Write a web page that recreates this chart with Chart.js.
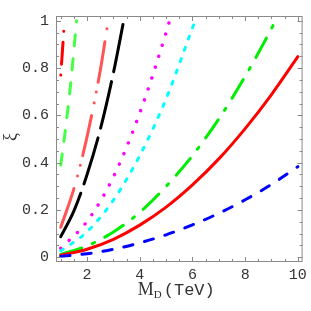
<!DOCTYPE html>
<html>
<head>
<meta charset="utf-8">
<script src="https://cdn.jsdelivr.net/npm/chart.js@4"></script>
<style>
html, body { margin: 0; padding: 0; background: #fff; }
#wrap { width: 311px; height: 311px; }
</style>
</head>
<body>
<div id="wrap"><canvas id="chart"></canvas></div>
<script>
// M_D (TeV) on x, xi on y
const xDarkRed = [1, 1.05, 1.1, 1.14];
const yDarkRed = [0.77, 0.85, 0.93, 1.0];
const xLightGreen = [1, 1.2, 1.4, 1.6];
const yLightGreen = [0.39, 0.56, 0.76, 1.0];
const xSalmon = [1, 1.5, 2, 2.5, 2.8];
const ySalmon = [0.127, 0.29, 0.51, 0.79, 1.0];
const xBlack = [1, 1.5, 2, 2.5, 3, 3.39];
const yBlack = [0.087, 0.196, 0.35, 0.54, 0.78, 1.0];
const xMagenta = [1, 2, 3, 4, 5, 5.13];
const yMagenta = [0.038, 0.152, 0.34, 0.61, 0.95, 1.0];
const xCyan = [1, 2, 3, 4, 5, 6, 6.1];
const yCyan = [0.027, 0.108, 0.242, 0.43, 0.67, 0.97, 1.0];
const xGreen = [1, 2, 3, 4, 5, 6, 7, 8, 9, 9.15];
const yGreen = [0.012, 0.048, 0.107, 0.19, 0.30, 0.43, 0.585, 0.765, 0.967, 1.0];
const xRed = [1, 2, 3, 4, 5, 6, 7, 8, 9, 10];
const yRed = [0.0085, 0.034, 0.076, 0.136, 0.212, 0.306, 0.416, 0.544, 0.688, 0.848];
const xBlue = [1, 2, 3, 4, 5, 6, 7, 8, 9, 10];
const yBlue = [0.0038, 0.015, 0.034, 0.061, 0.095, 0.137, 0.186, 0.243, 0.308, 0.383];

const xTicks = [2, 4, 6, 8, 10];
const xTickLabels = ['2', '4', '6', '8', '10'];
const yTicks = [0, 0.2, 0.4, 0.6, 0.8, 1];
const yTickLabels = ['0', '0.2', '0.4', '0.6', '0.8', '1'];

const mono = "'Liberation Mono', 'DejaVu Sans Mono', monospace";
const serif = "'Liberation Serif', 'DejaVu Serif', serif";

function curve(xs, ys, color, dash, offset, width) {
    return {
        data: xs.map((x, i) => ({x: x, y: ys[i]})),
        borderColor: color,
        borderWidth: width || 3,
        borderDash: dash,
        borderDashOffset: offset || 0,
        borderCapStyle: 'round',
        pointRadius: 0,
        cubicInterpolationMode: 'monotone',
        fill: false
    };
}

// Mathematica style frame with inward ticks on all four sides, plus axis labels
const framePlugin = {
    id: 'frame',
    afterDatasetsDraw(chart) {
        const {ctx, chartArea: a, scales} = chart;
        const sx = scales.x, sy = scales.y;
        ctx.save();
        ctx.strokeStyle = '#8a8a8a';
        ctx.lineWidth = 1;
        ctx.strokeRect(a.left + 0.5, a.top + 0.5, a.right - a.left - 1, a.bottom - a.top - 1);
        ctx.beginPath();
        for (let v = 1; v <= 10.001; v += 0.5) {
            const major = xTicks.some(t => Math.abs(t - v) < 1e-6);
            const len = major ? 5 : 3;
            const px = Math.round(sx.getPixelForValue(v)) + 0.5;
            ctx.moveTo(px, a.bottom); ctx.lineTo(px, a.bottom - len);
            ctx.moveTo(px, a.top); ctx.lineTo(px, a.top + len);
        }
        for (let v = 0; v <= 1.0001; v += 0.05) {
            const major = yTicks.some(t => Math.abs(t - v) < 1e-6);
            const len = major ? 5 : 3;
            const py = Math.round(sy.getPixelForValue(v)) + 0.5;
            ctx.moveTo(a.left, py); ctx.lineTo(a.left + len, py);
            ctx.moveTo(a.right, py); ctx.lineTo(a.right - len, py);
        }
        ctx.stroke();
        ctx.restore();
    },
    afterDraw(chart) {
        const {ctx, chartArea: a} = chart;
        ctx.save();
        ctx.fillStyle = '#333';
        ctx.textBaseline = 'alphabetic';
        const fM = '18px ' + serif, fD = '11px ' + serif, fT = '17px ' + mono;
        ctx.font = fM; const wM = ctx.measureText('M').width;
        ctx.font = fD; const wD = ctx.measureText('D').width;
        ctx.font = fT; const wT = ctx.measureText('(TeV)').width;
        const gap = 2;
        const x0 = (a.left + a.right) / 2 - (wM + wD + gap + wT) / 2 - 3;
        const base = 295;
        ctx.font = fM; ctx.fillText('M', x0, base);
        ctx.font = fD; ctx.fillText('D', x0 + wM, base + 3);
        ctx.font = fT; ctx.fillText('(TeV)', x0 + wM + wD + gap, base);

        // y title, turned a quarter left
        ctx.translate(11, (a.top + a.bottom) / 2 - 2);
        ctx.rotate(-Math.PI / 2);
        ctx.font = '18px ' + serif;
        ctx.textAlign = 'center';
        ctx.textBaseline = 'middle';
        ctx.fillText('ξ', 0, 0);
        ctx.restore();
    }
};

new Chart(document.getElementById('chart'), {
    type: 'line',
    data: {
        datasets: [
            curve(xBlue, yBlue, '#0000ff', [9.3, 12]),
            curve(xRed, yRed, '#ff0000', []),
            curve(xGreen, yGreen, '#00ee00', [22, 11.5, 2.5, 11.5]),
            curve(xCyan, yCyan, '#00ffff', [3, 9]),
            curve(xMagenta, yMagenta, '#ff00ff', [0.01, 11.5], 0, 3.5),
            curve(xBlack, yBlack, '#000000', [48, 10]),
            curve(xSalmon, ySalmon, '#ff5555', [41, 13, 0.01, 11, 0.01, 10]),
            curve(xLightGreen, yLightGreen, '#44ff44', [11, 13]),
            curve(xDarkRed, yDarkRed, '#ff0000', [22, 11, 0.01, 11, 0.01, 11], 44)
        ]
    },
    options: {
        responsive: true,
        maintainAspectRatio: false,
        animation: false,
        layout: {padding: {left: 0, right: 8, top: 16, bottom: 0}},
        plugins: {legend: {display: false}, tooltip: {enabled: false}},
        scales: {
            x: {
                type: 'linear',
                min: 0.82,
                max: 10.18,
                grid: {display: false, drawTicks: false},
                border: {display: false},
                afterBuildTicks: s => { s.ticks = xTicks.map(v => ({value: v})); },
                afterFit: s => { s.height = 49; },
                ticks: {
                    callback: (v, i) => xTickLabels[i],
                    font: {family: mono, size: 15},
                    color: '#333',
                    padding: 4,
                    maxRotation: 0,
                    autoSkip: false
                }
            },
            y: {
                type: 'linear',
                min: -0.02,
                max: 1.02,
                grid: {display: false, drawTicks: false},
                border: {display: false},
                afterBuildTicks: s => { s.ticks = yTicks.map(v => ({value: v})); },
                afterFit: s => { s.width = 56; },
                ticks: {
                    callback: (v, i) => yTickLabels[i],
                    font: {family: mono, size: 15},
                    color: '#333',
                    padding: 7,
                    autoSkip: false
                }
            }
        }
    },
    plugins: [framePlugin]
});
</script>
</body>
</html>
